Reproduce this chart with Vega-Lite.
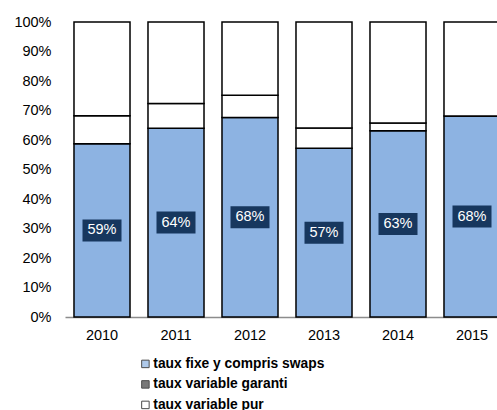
{
  "$schema": "https://vega.github.io/schema/vega-lite/v6.json",
  "width": 432,
  "height": 295,
  "autosize": "none",
  "padding": {"left": 65, "top": 22, "right": 0, "bottom": 93},
  "background": "white",
  "config": {"view": {"stroke": null}, "font": "Liberation Sans"},
  "data": {"values": [
    {"year": "2010", "type": "taux fixe y compris swaps", "value": 0.587},
    {"year": "2010", "type": "taux variable garanti", "value": 0.095},
    {"year": "2010", "type": "taux variable pur", "value": 0.318},
    {"year": "2011", "type": "taux fixe y compris swaps", "value": 0.640},
    {"year": "2011", "type": "taux variable garanti", "value": 0.084},
    {"year": "2011", "type": "taux variable pur", "value": 0.276},
    {"year": "2012", "type": "taux fixe y compris swaps", "value": 0.676},
    {"year": "2012", "type": "taux variable garanti", "value": 0.076},
    {"year": "2012", "type": "taux variable pur", "value": 0.248},
    {"year": "2013", "type": "taux fixe y compris swaps", "value": 0.572},
    {"year": "2013", "type": "taux variable garanti", "value": 0.069},
    {"year": "2013", "type": "taux variable pur", "value": 0.359},
    {"year": "2014", "type": "taux fixe y compris swaps", "value": 0.631},
    {"year": "2014", "type": "taux variable garanti", "value": 0.027},
    {"year": "2014", "type": "taux variable pur", "value": 0.342},
    {"year": "2015", "type": "taux fixe y compris swaps", "value": 0.681},
    {"year": "2015", "type": "taux variable garanti", "value": 0.0},
    {"year": "2015", "type": "taux variable pur", "value": 0.319}
  ]},
  "encoding": {
    "x": {
      "field": "year", "type": "ordinal",
      "scale": {"range": [0, 444], "paddingInner": 0.243, "paddingOuter": 0.1215},
      "axis": {"title": null, "labelAngle": 0, "ticks": false, "domainColor": "#8c8c8c", "domainWidth": 1.5, "labelFontSize": 14.5, "labelColor": "#000", "labelPadding": 11}
    }
  },
  "layer": [
    {
      "mark": {"type": "bar", "stroke": "#000", "strokeWidth": 1.5},
      "encoding": {
        "y": {"field": "value", "type": "quantitative", "stack": "zero",
          "scale": {"domain": [0, 1]},
          "axis": {"title": null, "domain": false, "ticks": false, "grid": false, "format": ".0%", "values": [0, 0.1, 0.2, 0.3, 0.4, 0.5, 0.6, 0.7, 0.8, 0.9, 1], "labelFontSize": 14.5, "labelColor": "#000", "labelPadding": 14, "labelOverlap": false}},
        "detail": {"field": "type", "type": "nominal"},
        "fill": {"condition": {"test": "datum.type === 'taux fixe y compris swaps'", "value": "#8DB3E2"}, "value": "#FFFFFF"},
        "order": {"field": "type", "sort": "ascending"}
      }
    },
    {
      "transform": [{"filter": "datum.value < 0"}],
      "mark": {"type": "square", "filled": true, "stroke": "#000", "strokeWidth": 1},
      "encoding": {
        "y": {"field": "value", "type": "quantitative",
          "axis": {"title": null, "domain": false, "ticks": false, "grid": false, "format": ".0%", "values": [0, 0.1, 0.2, 0.3, 0.4, 0.5, 0.6, 0.7, 0.8, 0.9, 1], "labelFontSize": 14.5, "labelColor": "#000", "labelPadding": 14, "labelOverlap": false}},
        "color": {"field": "type", "type": "nominal",
          "scale": {"domain": ["taux fixe y compris swaps", "taux variable garanti", "taux variable pur"], "range": ["#8DB3E2", "#404040", "#FFFFFF"]},
          "legend": {"title": null, "orient": "none", "legendX": 73.5, "legendY": 335, "padding": 0, "symbolType": "square", "symbolSize": 56, "symbolStrokeColor": "#000", "symbolStrokeWidth": 1, "labelFontSize": 13.8, "labelFontWeight": "bold", "labelColor": "#000", "rowPadding": 5.5, "labelOffset": 1, "labelLimit": 400}}
      }
    },
    {
      "transform": [{"filter": "datum.type === 'taux fixe y compris swaps'"}, {"calculate": "datum.value / 2", "as": "mid"}],
      "mark": {"type": "point", "shape": "M-1,-0.564L1,-0.564L1,0.564L-1,0.564Z", "filled": true, "color": "#17375E", "size": 1521, "opacity": 1},
      "encoding": {"y": {"field": "mid", "type": "quantitative",
          "axis": {"title": null, "domain": false, "ticks": false, "grid": false, "format": ".0%", "values": [0, 0.1, 0.2, 0.3, 0.4, 0.5, 0.6, 0.7, 0.8, 0.9, 1], "labelFontSize": 14.5, "labelColor": "#000", "labelPadding": 14, "labelOverlap": false}}}
    },
    {
      "transform": [{"filter": "datum.type === 'taux fixe y compris swaps'"}, {"calculate": "datum.value / 2", "as": "mid"}],
      "mark": {"type": "text", "color": "#FFFFFF", "fontSize": 14.5, "baseline": "middle"},
      "encoding": {"y": {"field": "mid", "type": "quantitative",
          "axis": {"title": null, "domain": false, "ticks": false, "grid": false, "format": ".0%", "values": [0, 0.1, 0.2, 0.3, 0.4, 0.5, 0.6, 0.7, 0.8, 0.9, 1], "labelFontSize": 14.5, "labelColor": "#000", "labelPadding": 14, "labelOverlap": false}},
        "text": {"field": "value", "type": "quantitative", "format": ".0%"}}
    }
  ]
}
